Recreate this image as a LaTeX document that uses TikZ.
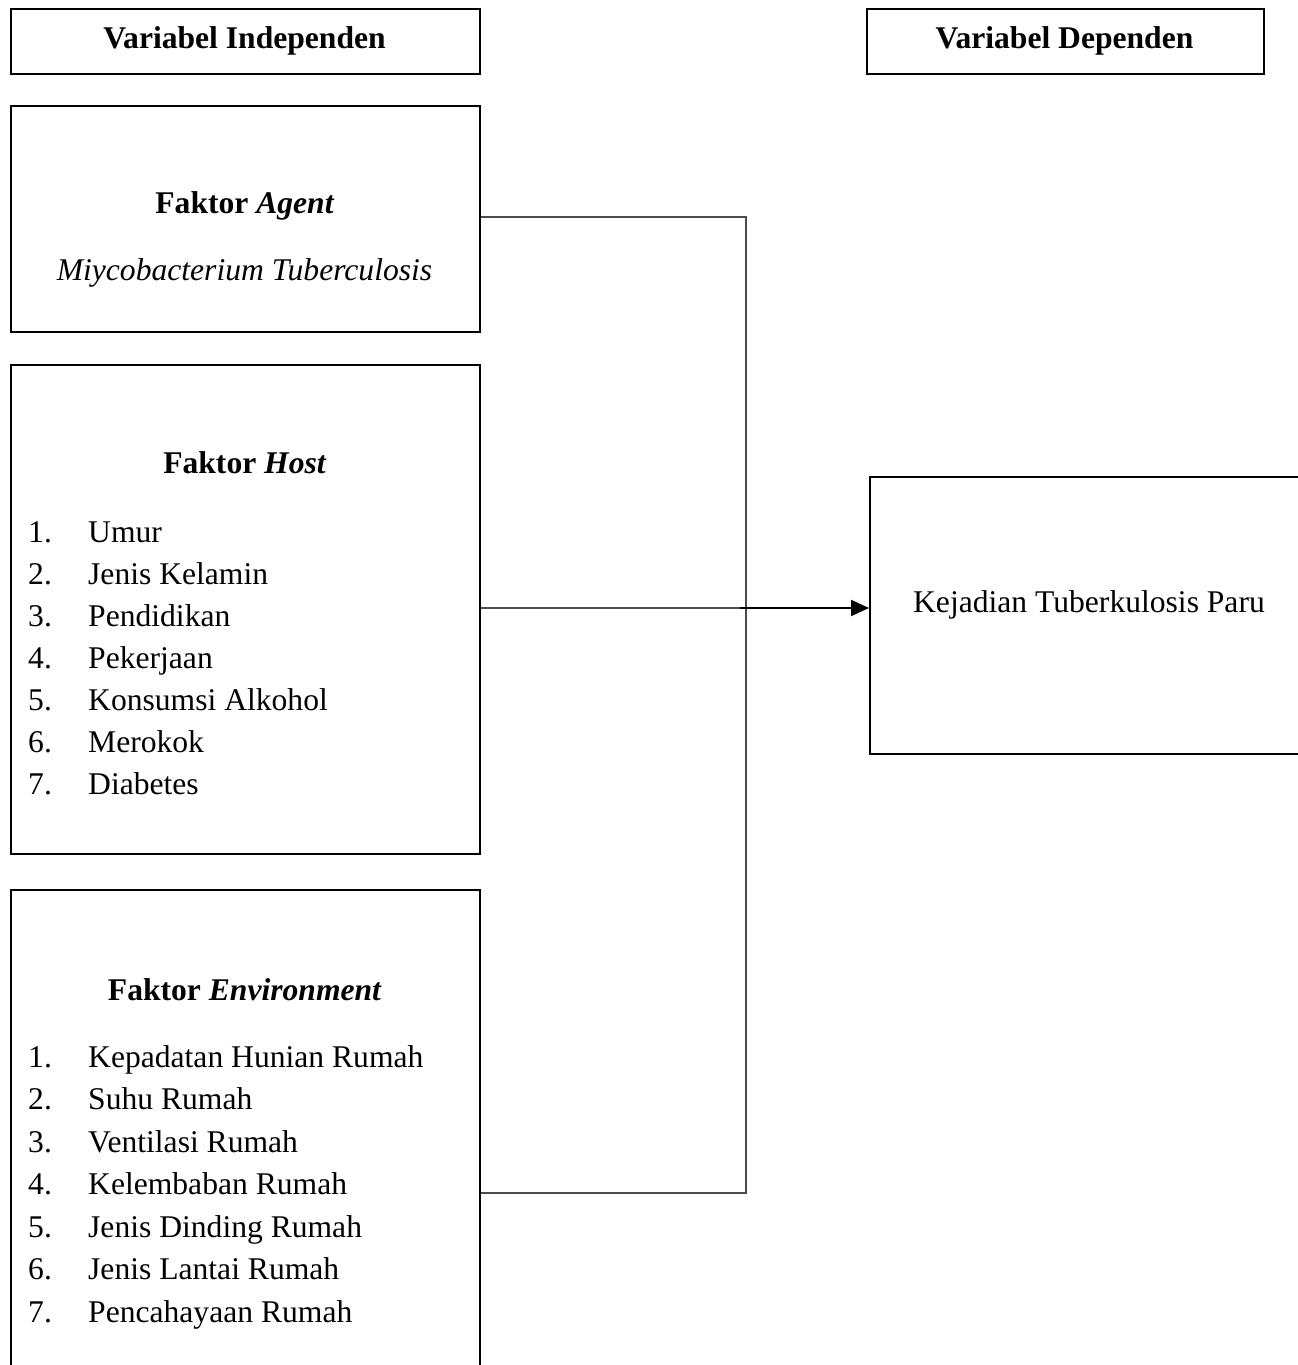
\documentclass[tikz,border=0pt]{standalone}
\usepackage{fontspec}
\setmainfont{Liberation Serif}
\usetikzlibrary{arrows.meta}
\begin{document}
\begin{tikzpicture}[x=1pt,y=-1pt,
  box/.style={draw=black,line width=2pt,anchor=north west,inner sep=0pt},
  conn/.style={draw=black!70,line width=1.3pt},
  arr/.style={draw=black,line width=2pt,-{Triangle[length=18pt,width=16pt]}},
  txt/.style={anchor=base,inner sep=0pt,font=\fontsize{31.6}{42}\selectfont},
  item/.style={anchor=base west,inner sep=0pt,font=\fontsize{31.6}{42}\selectfont}]
\useasboundingbox (0,0) rectangle (1298,1365);
\clip (0,0) rectangle (1298,1365);
% boxes
\node[box,minimum width=469pt,minimum height=65pt] (vi) at (10,8) {};
\node[box,minimum width=397pt,minimum height=65pt] (vd) at (866,8) {};
\node[box,minimum width=469pt,minimum height=226pt] (agent) at (10,105) {};
\node[box,minimum width=469pt,minimum height=489pt] (host) at (10,364) {};
\node[box,minimum width=469pt,minimum height=520pt] (env) at (10,889) {};
\node[box,minimum width=460pt,minimum height=277pt] (kej) at (869,476) {};
% texts
\node[txt] (tvi) at (244.5,48) {\bfseries Variabel Independen};
\node[txt] (tvd) at (1064.5,48) {\bfseries Variabel Dependen};
\node[txt] (tag) at (244.5,213) {\bfseries Faktor \itshape Agent};
\node[txt] (tmy) at (244.5,280) {\itshape Miycobacterium Tuberculosis};
\node[txt] (tho) at (244.5,473) {\bfseries Faktor \itshape Host};
\node[txt] (ten) at (244.5,1000) {\bfseries Faktor \itshape Environment};
\node[txt] (tkej) at (1089,612) {Kejadian Tuberkulosis Paru};
% host list
\foreach \n/\t [count=\i from 0] in {1/Umur,2/Jenis Kelamin,3/Pendidikan,4/Pekerjaan,5/Konsumsi Alkohol,6/Merokok,7/Diabetes}{
  \node[item] (hn\n) at (28,542+42*\i) {\n.};
  \node[item] (ht\n) at (88,542+42*\i) {\t};
}
% environment list
\foreach \n/\t [count=\i from 0] in {1/Kepadatan Hunian Rumah,2/Suhu Rumah,3/Ventilasi Rumah,4/Kelembaban Rumah,5/Jenis Dinding Rumah,6/Jenis Lantai Rumah,7/Pencahayaan Rumah}{
  \node[item] (en\n) at (28,1067+42.5*\i) {\n.};
  \node[item] (et\n) at (88,1067+42.5*\i) {\t};
}
% connectors
\coordinate (jt) at (746,217);
\coordinate (jb) at (746,1193);
\coordinate (jm) at (746,608);
\coordinate (ja) at (740,608);
\draw[conn] (agent.east |- jt) -- (jt) -- (jb) -- (jb -| env.east);
\draw[conn] (host.east |- jm) -- (jm);
\draw[arr] (ja) -- (ja -| kej.west);
\end{tikzpicture}
\end{document}
